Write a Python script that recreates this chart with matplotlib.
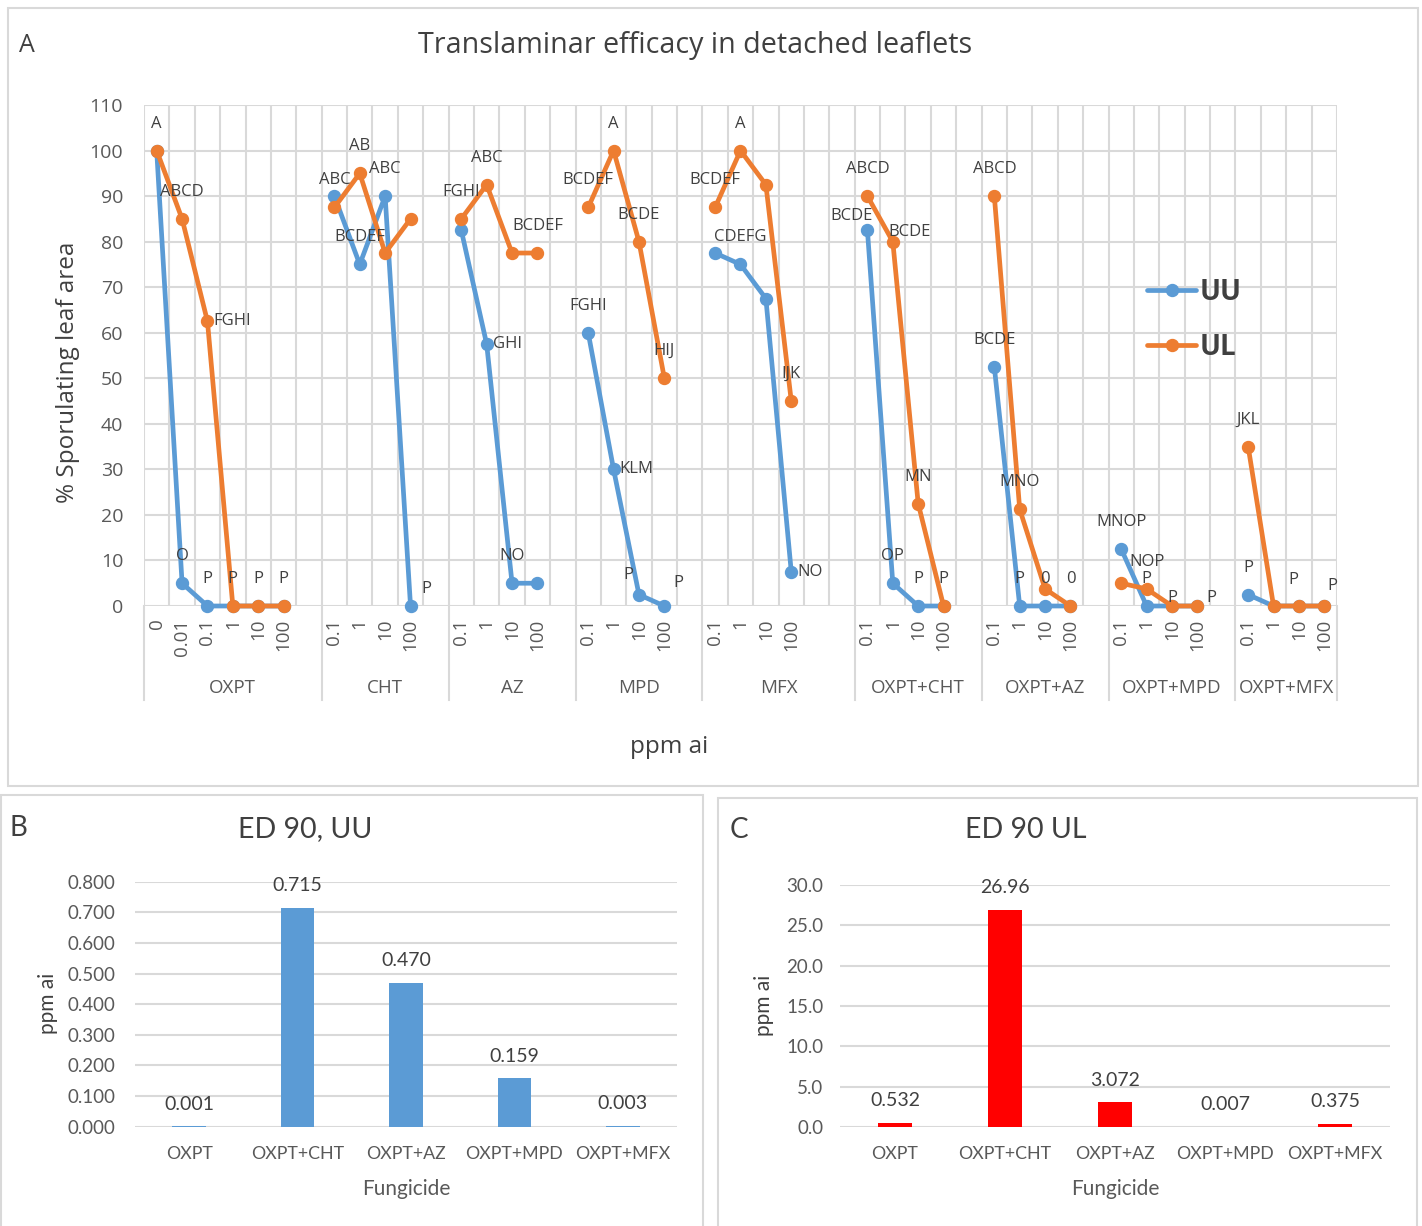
import numpy as np
import matplotlib
matplotlib.use("Agg")
import matplotlib.pyplot as plt
import matplotlib.transforms as mtransforms
from matplotlib.patches import Rectangle

W, H = 1422, 1226

# ---- panel A data: % sporulating leaf area per fungicide and dose ----
groups = ["OXPT", "CHT", "AZ", "MPD", "MFX", "OXPT+CHT", "OXPT+AZ", "OXPT+MPD", "OXPT+MFX"]
doses = [
    ["0", "0.01", "0.1", "1", "10", "100"],
    ["0.1", "1", "10", "100"],
    ["0.1", "1", "10", "100"],
    ["0.1", "1", "10", "100"],
    ["0.1", "1", "10", "100"],
    ["0.1", "1", "10", "100"],
    ["0.1", "1", "10", "100"],
    ["0.1", "1", "10", "100"],
    ["0.1", "1", "10", "100"],
]
blank_slots = [1, 1, 1, 1, 2, 1, 1, 1, 0]

uu = [
    [100, 5, 0, 0, 0, 0],
    [90, 75, 90, 0],
    [82.5, 57.5, 5, 5],
    [60, 30, 2.5, 0],
    [77.5, 75, 67.5, 7.5],
    [82.5, 5, 0, 0],
    [52.5, 0, 0, 0],
    [12.5, 0, 0, 0],
    [2.5, 0, 0, 0],
]
ul = [
    [100, 85, 62.5, 0, 0, 0],
    [87.5, 95, 77.5, 85],
    [85, 92.5, 77.5, 77.5],
    [87.5, 100, 80, 50],
    [87.5, 100, 92.5, 45],
    [90, 80, 22.5, 0],
    [90, 21.25, 3.75, 0],
    [5, 3.75, 0, 0],
    [35, 0, 0, 0],
]

# mean separation letters: (group, dose index, series, text, placement)
letters = [
    (0, 0, "UL", "A", "above"), (0, 1, "UL", "ABCD", "above"), (0, 2, "UL", "FGHI", "right"),
    (0, 1, "UU", "O", "above"), (0, 2, "UU", "P", "above"), (0, 3, "UU", "P", "above"),
    (0, 4, "UU", "P", "above"), (0, 5, "UU", "P", "above"),
    (1, 0, "UL", "ABC", "above"), (1, 1, "UL", "AB", "above"), (1, 2, "UU", "ABC", "above"),
    (1, 1, "UU", "BCDEF", "above"), (1, 3, "UU", "P", (16, 17)),
    (2, 0, "UL", "FGHI", "above"), (2, 1, "UL", "ABC", "above"), (2, 1, "UU", "GHI", "right"),
    (2, 3, "UL", "BCDEF", "above"), (2, 2, "UU", "NO", "above"),
    (3, 0, "UL", "BCDEF", "above"), (3, 1, "UL", "A", "above"), (3, 2, "UL", "BCDE", "above"),
    (3, 3, "UL", "HIJ", "above"), (3, 0, "UU", "FGHI", "above"), (3, 1, "UU", "KLM", "right"),
    (3, 2, "UU", "P", (-11, 20)), (3, 3, "UU", "P", (14, 23)),
    (4, 0, "UL", "BCDEF", "above"), (4, 1, "UL", "A", "above"), (4, 1, "UU", "CDEFG", "above"),
    (4, 3, "UL", "IJK", "above"), (4, 3, "UU", "NO", "right"),
    (5, 0, "UL", "ABCD", "above"), (5, 0, "UU", "BCDE", (-16, 14)), (5, 1, "UL", "BCDE", (17, 10)),
    (5, 2, "UL", "MN", "above"), (5, 1, "UU", "OP", "above"), (5, 2, "UU", "P", "above"),
    (5, 3, "UU", "P", "above"),
    (6, 0, "UL", "ABCD", "above"), (6, 0, "UU", "BCDE", "above"), (6, 1, "UL", "MNO", "above"),
    (6, 1, "UU", "P", "above"), (6, 2, "UU", "0", "above"), (6, 3, "UU", "0", "above"),
    (7, 0, "UU", "MNOP", "above"), (7, 1, "UL", "NOP", "above"), (7, 1, "UU", "P", "above"),
    (7, 2, "UU", "P", (0, 8)), (7, 3, "UU", "P", (14, 8)),
    (8, 0, "UL", "JKL", "above"), (8, 0, "UU", "P", "above"), (8, 2, "UU", "P", (-6, 26)),
    (8, 3, "UU", "P", (8, 20)),
]

# ---- panels B and C: ED90 values ----
fungicides = ["OXPT", "OXPT+CHT", "OXPT+AZ", "OXPT+MPD", "OXPT+MFX"]
ed90_uu = [0.001, 0.715, 0.470, 0.159, 0.003]
ed90_ul = [0.532, 26.96, 3.072, 0.007, 0.375]

BLUE = "#5B9BD5"
ORANGE = "#ED7D31"
GRID = "#D9D9D9"
TXT = "#595959"
DARK = "#404040"
FONT_A = "Open Sans"
FONT_B = "Lato"

fig = plt.figure(figsize=(W / 100, H / 100), dpi=100)


def px_axes(left, top, right, bottom):
    return fig.add_axes([left / W, 1 - bottom / H, (right - left) / W, (bottom - top) / H])


def ftext(x, y, s, **kw):
    return fig.text(x / W, 1 - y / H, s, **kw)


# ---- flatten the categories onto one axis ----
tick_lab, uu_y, ul_y = [], [], []
group_spans = []
slot = 0
pos_of = {}
for g, name in enumerate(groups):
    start = slot
    for d, lab in enumerate(doses[g]):
        pos_of[(g, d)] = slot
        tick_lab.append(lab)
        uu_y.append(uu[g][d])
        ul_y.append(ul[g][d])
        slot += 1
    for _ in range(blank_slots[g]):
        tick_lab.append("")
        uu_y.append(np.nan)
        ul_y.append(np.nan)
        slot += 1
    group_spans.append((start - 0.5, slot - 0.5))
x_all = np.arange(slot)

ax = px_axes(144, 105, 1337, 606)
ax.set_xlim(-0.5, slot - 0.5)
ax.set_ylim(0, 110)
ax.set_yticks(np.arange(0, 111, 10))
ax.set_xticks(x_all)
ax.set_xticklabels(tick_lab, rotation=90, fontsize=13.5, family=FONT_A, color=TXT)
ax.set_xticks(np.arange(-0.5, slot, 1), minor=True)
ax.tick_params(axis="both", which="both", length=0)
ax.tick_params(axis="y", pad=15, labelsize=14, labelcolor=TXT)
ax.tick_params(axis="x", which="major", pad=9)
for lab in ax.get_yticklabels():
    lab.set_family(FONT_A)
ax.grid(axis="y", which="major", color=GRID, lw=1.5)
ax.grid(axis="x", which="minor", color=GRID, lw=1.5)
for sp in ax.spines.values():
    sp.set_visible(False)
ax.set_axisbelow(True)

series_y = {"UU": np.array(uu_y, float), "UL": np.array(ul_y, float)}
l_uu, = ax.plot(x_all, series_y["UU"], color=BLUE, lw=3.4, marker="o", ms=8.6,
                solid_capstyle="round", clip_on=False, label="UU")
l_ul, = ax.plot(x_all, series_y["UL"], color=ORANGE, lw=3.4, marker="o", ms=8.6,
                solid_capstyle="round", clip_on=False, label="UL")

for g, d, s, text, place in letters:
    i = pos_of[(g, d)]
    y = series_y[s][i]
    if place == "above":
        off, ha = (0, 27), "center"
    elif place == "right":
        off, ha = (6, 0), "left"
    else:
        off, ha = place, "center"
    ax.annotate(text, (i, y), xytext=off, textcoords="offset pixels", ha=ha, va="center",
                fontsize=12, family=FONT_A, color=DARK, annotation_clip=False)

# group labels and separators under the dose ticks
trans = mtransforms.blended_transform_factory(ax.transData, ax.transAxes)
for (a, b), name in zip(group_spans, groups):
    ax.text((a + b) / 2, -0.163, name, transform=trans, ha="center", va="center",
            fontsize=13.5, family=FONT_A, color=TXT)
edges = sorted(set([s for s, _ in group_spans] + [e for _, e in group_spans]))
for e in edges:
    ax.plot([e, e], [0, -0.1876], transform=trans, color=GRID, lw=1.5, clip_on=False)

ax.legend(handles=[l_uu, l_ul], loc="upper left", bbox_to_anchor=(0.841, 0.655),
          frameon=False, prop=dict(family=FONT_A, weight="bold", size=20),
          labelcolor=DARK, handlelength=1.75, handletextpad=0.15, labelspacing=0.93,
          borderpad=0, borderaxespad=0)

ftext(695, 45, "Translaminar efficacy in detached leaflets", ha="center", va="center",
      fontsize=20.6, family=FONT_A, color=DARK)
ftext(27, 45, "A", ha="center", va="center", fontsize=18, family=FONT_A, color=DARK)
ftext(68, 372, "% Sporulating leaf area", rotation=90, ha="center", va="center",
      fontsize=17.5, family=FONT_A, color=DARK)
ftext(669, 747, "ppm ai", ha="center", va="center", fontsize=17.5, family=FONT_A, color=DARK)


# ---- ED90 bar panels ----
def bar_panel(box, values, color, ymax, step, tick_fmt, val_fmt, pad):
    bx = px_axes(*box)
    xs = np.arange(len(fungicides))
    bx.bar(xs, values, width=0.31, color=color, zorder=2)
    bx.set_xlim(-0.5, len(fungicides) - 0.5)
    bx.set_ylim(0, ymax)
    bx.set_yticks(np.arange(0, ymax + step / 2, step))
    bx.set_yticklabels([tick_fmt % t for t in np.arange(0, ymax + step / 2, step)])
    bx.set_xticks(xs)
    bx.set_xticklabels(fungicides)
    bx.tick_params(length=0, labelsize=13.5, labelcolor=TXT)
    bx.tick_params(axis="x", pad=14, labelsize=12.8)
    bx.tick_params(axis="y", pad=pad)
    for lab in bx.get_xticklabels() + bx.get_yticklabels():
        lab.set_family(FONT_B)
    bx.grid(axis="y", color=GRID, lw=1.5, zorder=0)
    bx.set_axisbelow(True)
    for sp in bx.spines.values():
        sp.set_visible(False)
    for x, v in zip(xs, values):
        bx.annotate(val_fmt.format(v), (x, v), xytext=(0, 22), textcoords="offset pixels",
                    ha="center", va="center", fontsize=14, family=FONT_B, color=DARK)
    return bx


bar_panel((135, 881.7, 677, 1126.7), ed90_uu, BLUE, 0.8, 0.1, "%.3f", "{:.3f}", 14)
bar_panel((840, 885, 1390, 1127), ed90_ul, "#FF0000", 30, 5, "%.1f", "{:.4g}", 12)

ftext(305, 829, "ED 90, UU", ha="center", va="center", fontsize=20.5, family=FONT_B, color=DARK)
ftext(18, 828, "B", ha="center", va="center", fontsize=20, family=FONT_B, color=DARK)
ftext(406, 1189, "Fungicide", ha="center", va="center", fontsize=15, family=FONT_B, color=TXT)
ftext(48, 1003, "ppm ai", rotation=90, ha="center", va="center", fontsize=15, family=FONT_B,
      color=DARK)

ftext(1026, 830, "ED 90 UL", ha="center", va="center", fontsize=20.5, family=FONT_B, color=DARK)
ftext(739, 830, "C", ha="center", va="center", fontsize=20, family=FONT_B, color=DARK)
ftext(1115, 1189, "Fungicide", ha="center", va="center", fontsize=15, family=FONT_B, color=TXT)
ftext(764, 1005, "ppm ai", rotation=90, ha="center", va="center", fontsize=15, family=FONT_B,
      color=DARK)

# panel frames
for x0, y0, x1, y1 in [(8, 8, 1418, 786), (1, 795, 703, 1240), (718, 798, 1417, 1240)]:
    fig.add_artist(Rectangle((x0 / W, 1 - y1 / H), (x1 - x0) / W, (y1 - y0) / H,
                             transform=fig.transFigure, fill=False, ec=GRID, lw=1.5))

fig.savefig("out.png", dpi=100)
